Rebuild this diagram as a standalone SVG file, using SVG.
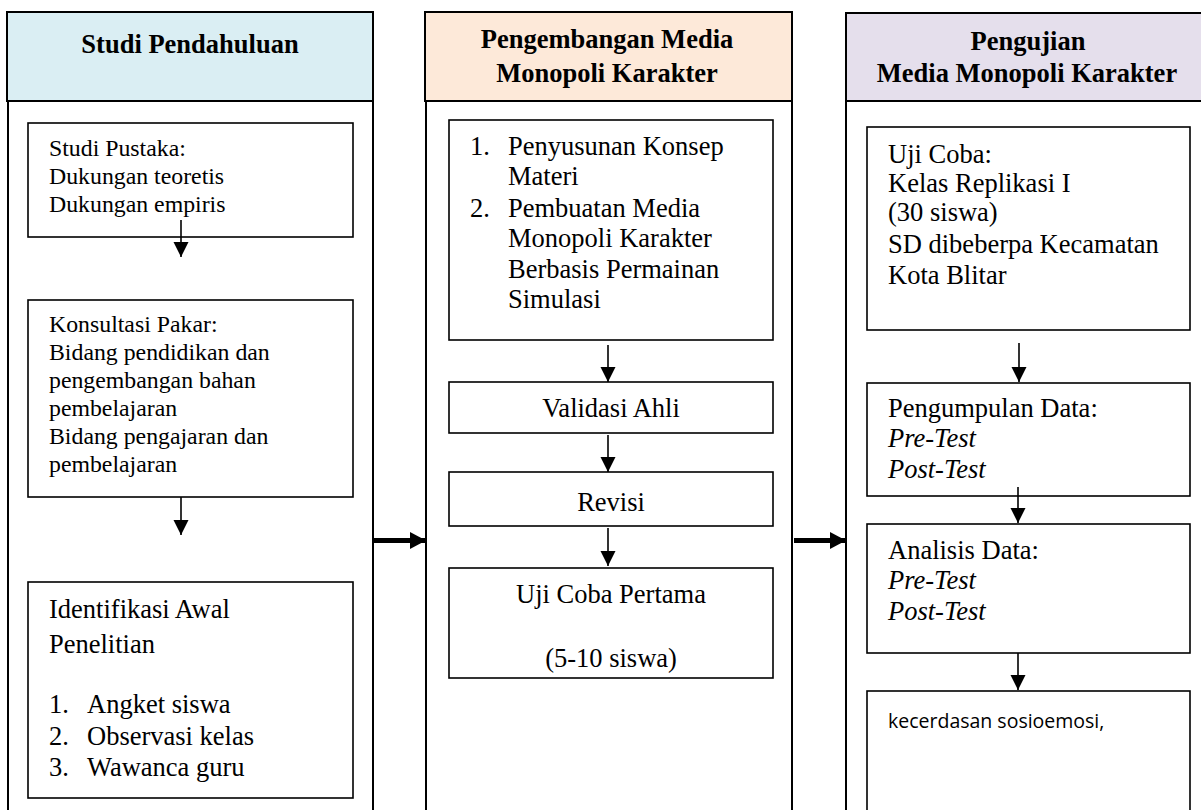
<svg xmlns="http://www.w3.org/2000/svg" width="1201" height="810" viewBox="0 0 1201 810">
<defs>
<marker id="ah" markerUnits="userSpaceOnUse" markerWidth="16" markerHeight="16" refX="15" refY="7.5" orient="auto">
<path d="M0,0 L15,7.5 L0,15 Z" fill="#000"/>
</marker>
<marker id="ahb" markerUnits="userSpaceOnUse" markerWidth="18" markerHeight="18" refX="16" refY="8.5" orient="auto">
<path d="M0,0 L16,8.5 L0,17 Z" fill="#000"/>
</marker>
</defs>
<style>
.col{fill:#fff;stroke:#000;stroke-width:2}
.hd{stroke:#000;stroke-width:2}
.box{fill:#fff;stroke:#000;stroke-width:1.6}
.ht{font-family:"Liberation Serif","Times New Roman",serif;font-weight:bold;font-size:26.5px;fill:#000;text-anchor:middle}
.t{font-family:"Liberation Serif","Times New Roman",serif;font-size:26.5px;fill:#000}
.ts{font-family:"Liberation Serif","Times New Roman",serif;font-size:23.8px;fill:#000}
.c{text-anchor:middle}
.i{font-style:italic}
.sans{font-family:"Open Sans","Noto Sans","Liberation Sans",sans-serif;font-size:19.5px;fill:#000}
.ar{stroke:#000;stroke-width:1.6;fill:none}
.arb{stroke:#000;stroke-width:5;fill:none}
</style>

<g id="col1">
<rect class="col" x="8" y="101" width="365" height="720"/>
<rect class="hd" x="7" y="12" width="366" height="89" fill="#DAEEF3"/>
<text class="ht" x="190" y="53">Studi Pendahuluan</text>
</g>
<g id="col2">
<rect class="col" x="426" y="101" width="366" height="720"/>
<rect class="hd" x="425" y="12" width="367" height="89" fill="#FDE9D9"/>
<text class="ht" x="607" y="48">Pengembangan Media</text>
<text class="ht" x="607" y="82">Monopoli Karakter</text>
</g>
<g id="col3">
<rect class="col" x="846" y="101" width="370" height="720"/>
<rect class="hd" x="846" y="13" width="370" height="88" fill="#E5DFEC"/>
<text class="ht" x="1028" y="50">Pengujian</text>
<text class="ht" x="1027" y="82">Media Monopoli Karakter</text>
</g>

<g id="studi-pustaka">
<rect class="box" x="28" y="123" width="325" height="114"/>
<text class="ts" x="49" y="156">Studi Pustaka:</text>
<text class="ts" x="49" y="184">Dukungan teoretis</text>
<text class="ts" x="49" y="212">Dukungan empiris</text>
</g>
<g id="konsultasi">
<rect class="box" x="28" y="300" width="325" height="197"/>
<text class="ts" x="49" y="332">Konsultasi Pakar:</text>
<text class="ts" x="49" y="360">Bidang pendidikan dan</text>
<text class="ts" x="49" y="388">pengembangan bahan</text>
<text class="ts" x="49" y="416">pembelajaran</text>
<text class="ts" x="49" y="444">Bidang pengajaran dan</text>
<text class="ts" x="49" y="472">pembelajaran</text>
</g>
<g id="identifikasi">
<rect class="box" x="28" y="582" width="325" height="216"/>
<text class="t" x="49" y="618">Identifikasi Awal</text>
<text class="t" x="49" y="653">Penelitian</text>
<text class="t" x="49" y="713">1.</text><text class="t" x="87" y="713">Angket siswa</text>
<text class="t" x="49" y="745">2.</text><text class="t" x="87" y="745">Observasi kelas</text>
<text class="t" x="49" y="776">3.</text><text class="t" x="87" y="776">Wawanca guru</text>
</g>

<g id="penyusunan">
<rect class="box" x="449" y="120" width="324" height="220"/>
<text class="t" x="470" y="155">1.</text><text class="t" x="508" y="155">Penyusunan Konsep</text>
<text class="t" x="508" y="185">Materi</text>
<text class="t" x="470" y="217">2.</text><text class="t" x="508" y="217">Pembuatan Media</text>
<text class="t" x="508" y="247">Monopoli Karakter</text>
<text class="t" x="508" y="278">Berbasis Permainan</text>
<text class="t" x="508" y="308">Simulasi</text>
</g>
<g id="validasi">
<rect class="box" x="449" y="382" width="324" height="51"/>
<text class="t c" x="611" y="417">Validasi Ahli</text>
</g>
<g id="revisi">
<rect class="box" x="449" y="472" width="324" height="54"/>
<text class="t c" x="611" y="511">Revisi</text>
</g>
<g id="uji-pertama">
<rect class="box" x="449" y="568" width="324" height="110"/>
<text class="t c" x="611" y="603">Uji Coba Pertama</text>
<text class="t c" x="611" y="667">(5-10 siswa)</text>
</g>

<g id="uji-coba">
<rect class="box" x="867" y="127" width="323" height="203"/>
<text class="t" x="888" y="163">Uji Coba:</text>
<text class="t" x="888" y="192">Kelas Replikasi I</text>
<text class="t" x="888" y="221">(30 siswa)</text>
<text class="t" x="888" y="253">SD dibeberpa Kecamatan</text>
<text class="t" x="888" y="284">Kota Blitar</text>
</g>
<g id="pengumpulan">
<rect class="box" x="867" y="383" width="323" height="113"/>
<text class="t" x="888" y="417">Pengumpulan Data:</text>
<text class="t i" x="888" y="447">Pre-Test</text>
<text class="t i" x="888" y="478">Post-Test</text>
</g>
<g id="analisis">
<rect class="box" x="867" y="524" width="323" height="129"/>
<text class="t" x="888" y="559">Analisis Data:</text>
<text class="t i" x="888" y="589">Pre-Test</text>
<text class="t i" x="888" y="620">Post-Test</text>
</g>
<g id="kecerdasan">
<rect class="box" x="867" y="691" width="323" height="130"/>
<text class="sans" x="888" y="728">kecerdasan sosioemosi,</text>
</g>

<g id="connectors">
<line class="ar" x1="181" y1="220" x2="181" y2="257" marker-end="url(#ah)"/>
<line class="ar" x1="181" y1="497" x2="181" y2="535" marker-end="url(#ah)"/>
<line class="ar" x1="608" y1="345" x2="608" y2="382" marker-end="url(#ah)"/>
<line class="ar" x1="608" y1="435" x2="608" y2="472" marker-end="url(#ah)"/>
<line class="ar" x1="608" y1="528" x2="608" y2="566" marker-end="url(#ah)"/>
<line class="ar" x1="1019" y1="343" x2="1019" y2="382" marker-end="url(#ah)"/>
<line class="ar" x1="1018" y1="487" x2="1018" y2="523" marker-end="url(#ah)"/>
<line class="ar" x1="1018" y1="653" x2="1018" y2="690" marker-end="url(#ah)"/>
<line class="arb" x1="374" y1="540.5" x2="426" y2="540.5" marker-end="url(#ahb)"/>
<line class="arb" x1="794" y1="540.5" x2="846" y2="540.5" marker-end="url(#ahb)"/>
</g>
</svg>
